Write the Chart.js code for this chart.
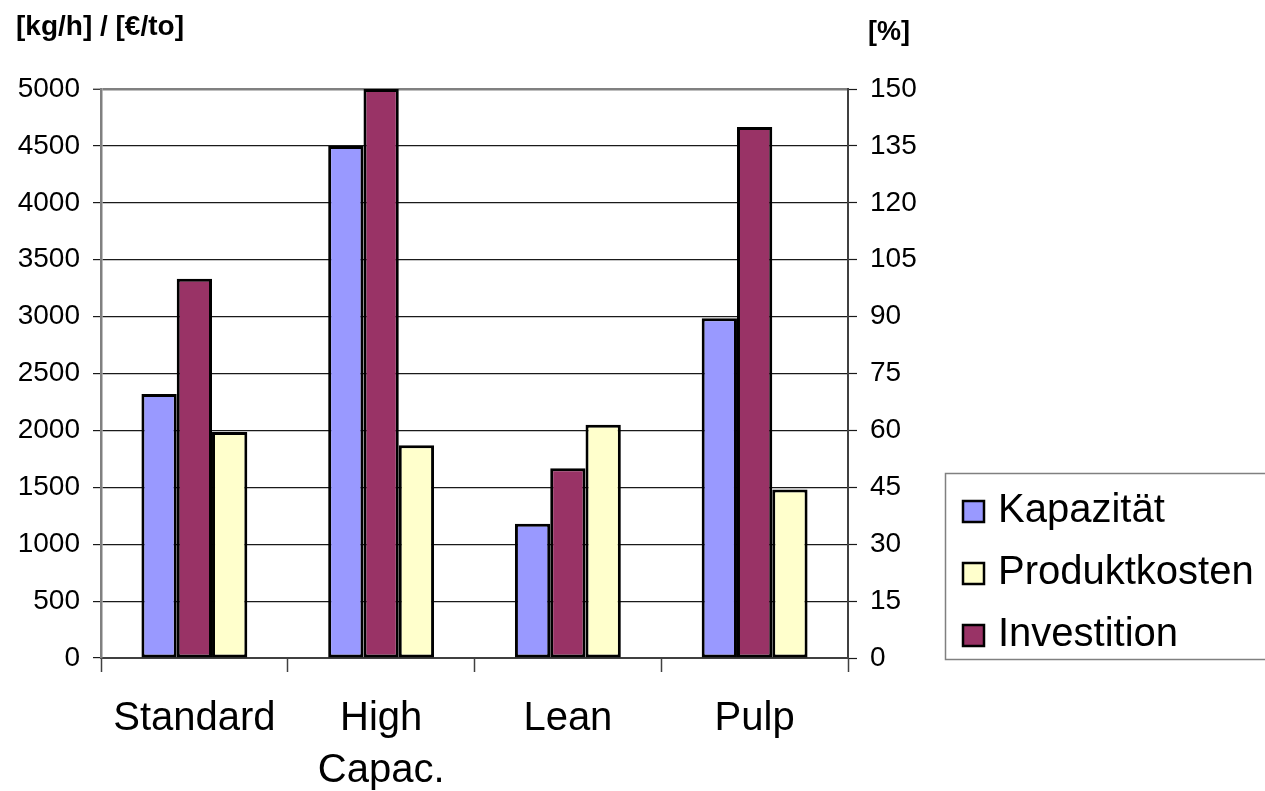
<!DOCTYPE html>
<html>
<head>
<meta charset="utf-8">
<title>Kapazität / Produktkosten / Investition</title>
<script src="https://cdn.jsdelivr.net/npm/chart.js@4/dist/chart.umd.min.js"></script>
<style>
  html, body { margin: 0; padding: 0; background: #fff; }
  #chartBox { width: 1265px; height: 791px; }
</style>
</head>
<body>
<div id="chartBox"><canvas id="myChart" width="1265" height="791"></canvas></div>
<script>
const categories = ["Standard", ["High", "Capac."], "Lean", "Pulp"];
const kapazitaet = [2320, 4500, 1180, 2985];      // kg/h, left axis
const produktkosten = [1985, 1870, 2050, 1480];   // €/to, left axis
const investition = [100, 150, 50, 140];          // %, right axis
const leftTicks = { min: 0, max: 5000, step: 500 };
const rightTicks = { min: 0, max: 150, step: 15 };

const fontFamily = "'Liberation Sans', Arial, sans-serif";
const legendOrder = [0, 2, 1];

// axis headings and the boxed legend at the bottom right
const extrasPlugin = {
  id: "extras",
  afterDraw(chart) {
    const ctx = chart.ctx;
    ctx.save();
    ctx.fillStyle = "#000";
    ctx.textBaseline = "middle";
    ctx.textAlign = "left";
    ctx.font = `bold 28px ${fontFamily}`;
    ctx.fillText("[kg/h] / [€/to]", 16, 27);
    ctx.font = `bold 27px ${fontFamily}`;
    ctx.fillText("[%]", 868, 33);

    ctx.strokeStyle = "#808080";
    ctx.lineWidth = 1.5;
    ctx.strokeRect(945.5, 473.5, 400, 186);

    ctx.font = `40px ${fontFamily}`;
    legendOrder.forEach((dsIndex, i) => {
      const dataset = chart.data.datasets[dsIndex];
      const centerY = 511 + i * 62;
      ctx.fillStyle = dataset.backgroundColor;
      ctx.fillRect(963, centerY - 10, 21, 21);
      ctx.strokeStyle = "#000";
      ctx.lineWidth = 2.5;
      ctx.strokeRect(963, centerY - 10, 21, 21);
      ctx.fillStyle = "#000";
      ctx.fillText(dataset.label, 998, centerY);
    });
    ctx.restore();
  }
};

const barStyle = {
  borderColor: "#000",
  borderWidth: 3,
  borderSkipped: false,
  categoryPercentage: 0.567,
  barPercentage: 1,
};

const plainNumber = value => String(value);

const myChart = document.getElementById("myChart").getContext("2d");
const optionChart = new Chart(myChart, {
  type: "bar",
  data: {
    labels: categories,
    datasets: [
      { label: "Kapazität", data: kapazitaet, backgroundColor: "#9999FF", yAxisID: "y", ...barStyle },
      { label: "Investition", data: investition, backgroundColor: "#993366", yAxisID: "y1", ...barStyle },
      { label: "Produktkosten", data: produktkosten, backgroundColor: "#FFFFCC", yAxisID: "y", ...barStyle },
    ]
  },
  plugins: [extrasPlugin],
  options: {
    responsive: false,
    animation: false,
    layout: {
      padding: { left: 0, right: 317, top: 89, bottom: 0 }
    },
    plugins: {
      legend: { display: false },
      tooltip: { enabled: false },
    },
    scales: {
      x: {
        grid: {
          offset: true,
          drawOnChartArea: false,
          tickLength: 14,
          tickColor: "#404040",
          tickWidth: 1.5,
        },
        border: { color: "#404040", width: 2 },
        ticks: {
          color: "#000",
          padding: 21,
          maxRotation: 0,
          font: { family: fontFamily, size: 40, lineHeight: 1.3 },
        },
        afterFit: scale => { scale.height = 133; },
      },
      y: {
        position: "left",
        min: leftTicks.min,
        max: leftTicks.max,
        ticks: {
          stepSize: leftTicks.step,
          callback: plainNumber,
          color: "#000",
          padding: 13,
          font: { family: fontFamily, size: 28 },
        },
        grid: {
          tickLength: 8,
          color: c => (c.tick && c.tick.value === leftTicks.max) ? "#808080" : "#1a1a1a",
          lineWidth: c => (c.tick && c.tick.value === leftTicks.max) ? 2.5 : 1.2,
          tickColor: "#1a1a1a",
          tickWidth: 1.2,
        },
        border: { color: "#808080", width: 2.5 },
        afterFit: scale => { scale.width = 101; },
      },
      y1: {
        position: "right",
        min: rightTicks.min,
        max: rightTicks.max,
        ticks: {
          stepSize: rightTicks.step,
          callback: plainNumber,
          color: "#000",
          padding: 13,
          font: { family: fontFamily, size: 28 },
        },
        grid: {
          drawOnChartArea: false,
          tickLength: 9,
          tickColor: "#1a1a1a",
          tickWidth: 1.2,
        },
        border: { color: "#404040", width: 2 },
        afterFit: scale => { scale.width = 100; },
      },
    },
  },
});
</script>
</body>
</html>
